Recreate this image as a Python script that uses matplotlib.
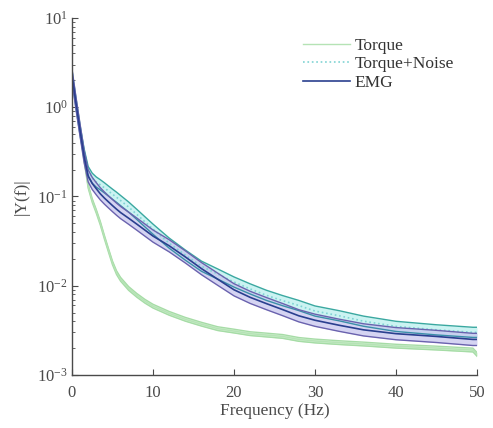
import numpy as np
import matplotlib
matplotlib.use("Agg")
import matplotlib.pyplot as plt

#------ donnees --------------------------------------------#
freq = [0, 0.5, 1, 1.5, 2, 2.5, 3, 3.5, 4, 4.5, 5, 5.5, 6, 7, 8, 9, 10, 12, 14,
        16, 18, 20, 22, 24, 26, 28, 30, 33, 36, 40, 45, 49.5, 50]

torque = [2.3, 1.1, 0.55, 0.26, 0.13, 0.09, 0.068, 0.05, 0.035, 0.025, 0.018,
          0.014, 0.0118, 0.0093, 0.0078, 0.0067, 0.0059, 0.0049, 0.0042,
          0.0037, 0.0033, 0.0031, 0.0029, 0.0028, 0.0027, 0.0025, 0.0024,
          0.0023, 0.00222, 0.0021, 0.002, 0.0019, 0.0017]

torque_noise = [2.3, 1.1, 0.55, 0.3, 0.19, 0.16, 0.145, 0.135, 0.125, 0.115, 0.106,
                0.098, 0.09, 0.076, 0.063, 0.052, 0.043, 0.030, 0.022,
                0.0165, 0.0135, 0.0110, 0.0092, 0.0078, 0.0068, 0.0060, 0.0052,
                0.0046, 0.0040, 0.0035, 0.0032, 0.0030, 0.0030]

emg = [2.3, 1.1, 0.55, 0.28, 0.17, 0.14, 0.122, 0.107, 0.096, 0.087, 0.079,
       0.072, 0.066, 0.057, 0.049, 0.042, 0.036, 0.028, 0.021,
       0.0155, 0.0118, 0.0090, 0.0074, 0.0063, 0.0054, 0.0046, 0.0041,
       0.0036, 0.0032, 0.0029, 0.0027, 0.0025, 0.0025]

# facteur de l'ecart-type (bande = moyenne */ facteur)
sd_torque = 1.05
sd_noise = 1.14
sd_emg = 1.17
#-----------------------------------------------------------#

f = np.array(freq)
tq = np.array(torque)
tn = np.array(torque_noise)
em = np.array(emg)

plt.rcParams['font.family'] = ['Liberation Serif', 'DejaVu Serif']
gris = '#4a4a4a'

fig = plt.figure(figsize=(4.93, 4.28), dpi=100)
ax = fig.add_axes([0.146, 0.124, 0.8215, 0.834])

# Torque
ax.fill_between(f, tq / sd_torque, tq * sd_torque, color='#cdeecd', lw=0)
ax.plot(f, tq / sd_torque, color='#a6dca6', lw=1)
ax.plot(f, tq * sd_torque, color='#a6dca6', lw=1)
l1, = ax.plot(f, tq, color='#b5e3b5', lw=1)

# Torque + Noise
ax.fill_between(f, tn / sd_noise, tn * sd_noise, color='#bff0ef', alpha=0.8, lw=0)
ax.plot(f, tn / sd_noise, color='#3a8fa8', lw=1)
ax.plot(f, tn * sd_noise, color='#3aa8a0', lw=1)
l2, = ax.plot(f, tn, color='#7fd3d3', lw=1.2, ls=':')

# EMG
ax.fill_between(f, em / sd_emg, em * sd_emg, color='#c8c6ee', alpha=0.75, lw=0)
ax.plot(f, em / sd_emg, color='#6a62ae', lw=1)
ax.plot(f, em * sd_emg, color='#6a62ae', lw=1)
l3, = ax.plot(f, em, color='#2a3f8f', lw=1.2)

ax.set_yscale('log')
ax.set_xlim(0, 50)
ax.set_ylim(1e-3, 1e1)
ax.set_xticks([0, 10, 20, 30, 40, 50])
ax.set_yticks([1e-3, 1e-2, 1e-1, 1e0, 1e1])

for s in ['top', 'right']:
    ax.spines[s].set_visible(False)
for s in ['left', 'bottom']:
    ax.spines[s].set_color(gris)
    ax.spines[s].set_linewidth(1.0)

ax.tick_params(which='both', direction='in', colors=gris, labelsize=12)
ax.tick_params(which='major', length=4)
ax.tick_params(which='minor', length=2.5)
ax.tick_params(axis='x', pad=7)
ax.tick_params(axis='y', pad=3)

ax.set_xlabel("Frequency (Hz)", color=gris, fontsize=12.5, labelpad=2)
ax.set_ylabel("|Y(f)|", color=gris, fontsize=12.5)
ax.yaxis.set_label_coords(-0.105, 0.5)

leg = ax.legend([l1, l2, l3], ["Torque", "Torque+Noise", "EMG"],
                loc='upper left', bbox_to_anchor=(0.55, 0.968),
                frameon=False, fontsize=12.5, handlelength=2.7,
                handletextpad=0.25, labelspacing=0.12, borderpad=0)
for t in leg.get_texts():
    t.set_color('#333333')

fig.savefig("out.png", dpi=100)
